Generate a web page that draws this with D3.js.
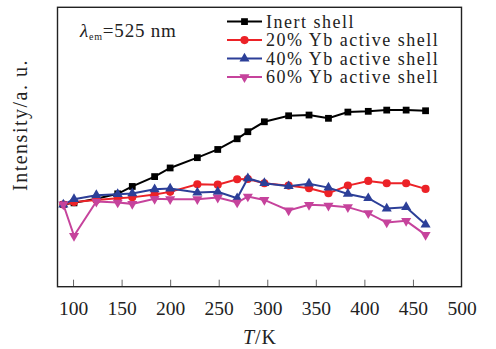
<!DOCTYPE html>
<html>
<head>
<meta charset="utf-8">
<script src="https://cdn.jsdelivr.net/npm/d3@7"></script>
<style>
  body { margin: 0; background: #fff; }
  svg { display: block; }
  text { font-family: "Liberation Serif", "Times New Roman", serif; fill: #222; }
</style>
</head>
<body>
<svg id="chart" width="496" height="349"></svg>
<script>
// temperature (K)
var temps = [90, 101, 124, 146, 161, 184, 200, 228, 249, 269, 280, 297, 322, 343, 363, 383, 404, 423, 443, 463];
// normalized intensity (a.u.)
var inertShell = [1.00, 1.02, 1.07, 1.13, 1.22, 1.34, 1.445, 1.57, 1.67, 1.80, 1.886, 2.007, 2.08, 2.089, 2.049, 2.125, 2.134, 2.149, 2.149, 2.141];
var yb20 = [1.00, 1.03, 1.056, 1.075, 1.087, 1.123, 1.154, 1.247, 1.242, 1.308, 1.31, 1.259, 1.23, 1.199, 1.138, 1.23, 1.287, 1.259, 1.259, 1.19];
var yb40 = [1.00, 1.065, 1.114, 1.126, 1.135, 1.186, 1.194, 1.145, 1.154, 1.077, 1.32, 1.26, 1.223, 1.254, 1.206, 1.129, 1.077, 0.951, 0.968, 0.757];
var yb60 = [1.00, 0.619, 1.036, 1.024, 1.008, 1.069, 1.065, 1.065, 1.084, 1.024, 1.097, 1.056, 0.927, 0.996, 0.987, 0.968, 0.895, 0.781, 0.801, 0.631];
var seriesNames = ["Inert shell", "20% Yb active shell", "40% Yb active shell", "60% Yb active shell"];
var xTicks = [100, 150, 200, 250, 300, 350, 400, 450, 500];

var series = [
  { name: seriesNames[0], values: inertShell, color: "#000000", symbol: d3.symbolSquare, size: 46, rot: 0 },
  { name: seriesNames[1], values: yb20, color: "#ec2227", symbol: d3.symbolCircle, size: 52, rot: 0 },
  { name: seriesNames[2], values: yb40, color: "#2c3f98", symbol: d3.symbolTriangle, size: 44, rot: 0 },
  { name: seriesNames[3], values: yb60, color: "#c6439c", symbol: d3.symbolTriangle, size: 44, rot: 180 }
];

var svg = d3.select("#chart");
var plotL = 57.5, plotR = 461.5, plotT = 7.3, plotB = 286.7;

var x = d3.scaleLinear().domain([84, 500]).range([plotL, plotR]);
var y = d3.scaleLinear().domain([0, 3.4]).range([plotB, plotT]);

// inward ticks on the bottom
var xAxis = svg.append("g")
  .attr("transform", "translate(0," + plotB + ")")
  .call(d3.axisBottom(x).tickValues(xTicks).tickSizeInner(-7).tickSizeOuter(0).tickPadding(14));
xAxis.select(".domain").remove();
xAxis.selectAll("line").attr("stroke", "#666").attr("stroke-width", 1)
  .filter(function (d) { return d === 500; }).remove();
xAxis.selectAll("text")
  .attr("font-family", "'Liberation Serif', 'Times New Roman', serif")
  .attr("font-size", 19.5).attr("fill", "#222");

var line = d3.line()
  .x(function (d, i) { return x(temps[i]); })
  .y(function (d) { return y(d); });

series.forEach(function (s) {
  svg.append("path")
    .datum(s.values)
    .attr("fill", "none")
    .attr("stroke", s.color)
    .attr("stroke-width", 2)
    .attr("d", line);

  svg.append("g").selectAll("path")
    .data(s.values)
    .enter().append("path")
    .attr("d", d3.symbol().type(s.symbol).size(s.size))
    .attr("fill", s.color)
    .attr("transform", function (d, i) {
      return "translate(" + x(temps[i]) + "," + y(d) + ") rotate(" + s.rot + ")";
    });
});

// frame
svg.append("rect")
  .attr("x", plotL).attr("y", plotT)
  .attr("width", plotR - plotL).attr("height", plotB - plotT)
  .attr("fill", "none").attr("stroke", "#222").attr("stroke-width", 1.4);

// legend
var legend = svg.append("g").selectAll("g")
  .data(series)
  .enter().append("g")
  .attr("transform", function (d, i) { return "translate(227," + (21.6 + i * 18.5) + ")"; });
legend.append("line")
  .attr("x1", 0).attr("x2", 35)
  .attr("stroke", function (d) { return d.color; })
  .attr("stroke-width", 2);
legend.append("path")
  .attr("d", function (d) { return d3.symbol().type(d.symbol).size(d.size)(); })
  .attr("fill", function (d) { return d.color; })
  .attr("transform", function (d) { return "translate(17.5,0) rotate(" + d.rot + ")"; });
legend.append("text")
  .attr("x", 39).attr("dy", "0.34em")
  .attr("font-size", 18)
  .attr("letter-spacing", 1.5)
  .text(function (d) { return d.name; });

// lambda label
var lam = svg.append("text")
  .attr("x", 80).attr("y", 37)
  .attr("font-size", 19)
  .attr("letter-spacing", 0.8);
lam.append("tspan").attr("font-style", "italic").text("λ");
lam.append("tspan").attr("font-size", 10).attr("dy", 3).text("em");
lam.append("tspan").attr("dy", -3).text("=525 nm");

// axis titles
var xt = svg.append("text")
  .attr("x", 260).attr("y", 344)
  .attr("text-anchor", "middle")
  .attr("font-size", 20)
  .attr("letter-spacing", 1);
xt.append("tspan").attr("font-style", "italic").text("T");
xt.append("tspan").text("/K");

svg.append("text")
  .attr("transform", "translate(27,125) rotate(-90)")
  .attr("text-anchor", "middle")
  .attr("font-size", 20)
  .attr("letter-spacing", 1.5)
  .text("Intensity/a. u.");
</script>
</body>
</html>
